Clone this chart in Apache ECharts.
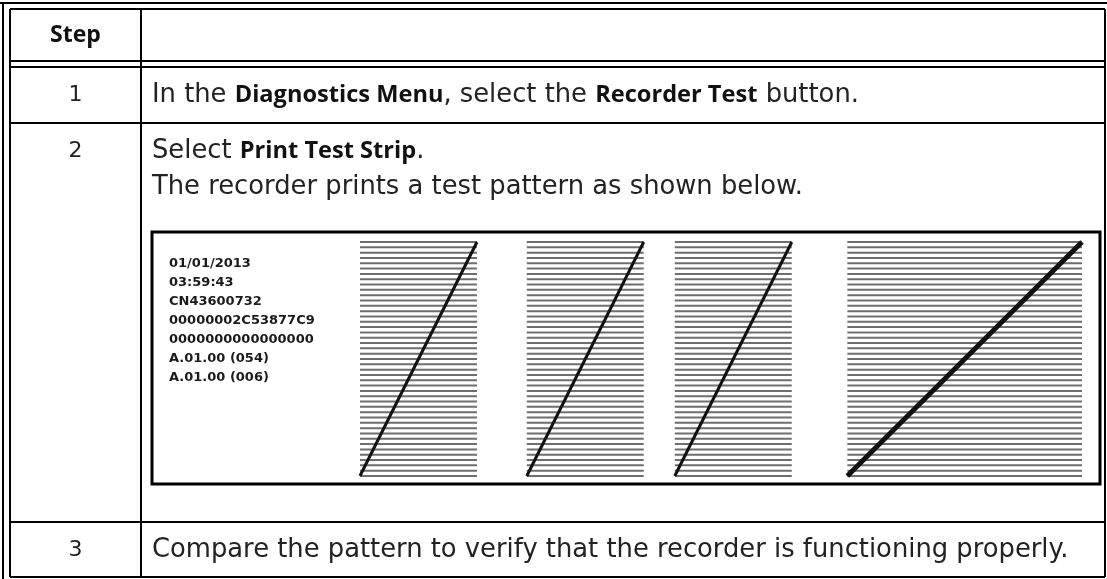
<!DOCTYPE html>
<html><head><meta charset="utf-8">
<script src="https://cdn.jsdelivr.net/npm/echarts@6/dist/echarts.min.js"></script>
<style>html,body{margin:0;padding:0;background:#fff}#c{width:1107px;height:579px}</style>
</head><body><div id="c"></div>
<script>
// ---- content ----
const headerLabels = ['Step', ''];
const stepNumbers = ['1', '2', '3'];
const stepLines = [
  ['In the {b|Diagnostics Menu}, select the {b|Recorder Test} button.'],
  ['Select {b|Print Test Strip}.', 'The recorder prints a test pattern as shown below.'],
  ['Compare the pattern to verify that the recorder is functioning properly.']
];
const stripInfo = ['01/01/2013', '03:59:43', 'CN43600732', '00000002C53877C9', '0000000000000000', 'A.01.00 (054)', 'A.01.00 (006)'];
// test-pattern blocks: [start, end] across the printed strip (percent of pattern width)
const hatchBlocks = [[0, 16.2], [23.1, 39.3], [43.6, 59.8], [67.5, 100]];
const hatchLineCount = 45;
const diagonalWeights = [3, 3, 3, 5];

// ---- layout ----
const W = 1107, H = 579;
const colX = 141, tblL = 10, tblR = 1105, tblT = 9, tblB = 577;
const rowLines = [61, 67, 123, 522];
const rowCenters = [95, 151, 550];
const headerY = 35;
const textX = 152;
const lineGap = 36;
const box = {x: 152, y: 232, w: 948, h: 252};
const FONT = '"DejaVu Sans", sans-serif';
const BFONT = '"Open Sans", "Noto Sans", sans-serif';
const FS = 25.8;

const chart = echarts.init(document.getElementById('c'), null, {renderer: 'canvas'});
const g = [];
function line(x1, y1, x2, y2, w) {
  g.push({type: 'line', shape: {x1, y1, x2, y2}, style: {stroke: '#000', lineWidth: w || 2}, silent: true});
}
// outer frame
line(0, 3, W, 3, 2);
line(3, 3, 3, H, 2);
// table
line(tblL, tblT, tblR, tblT);
line(tblL, tblT, tblL, tblB);
line(tblR, tblT, tblR, tblB);
line(tblL, tblB, tblR, tblB);
line(colX, tblT, colX, tblB);
rowLines.forEach(y => line(tblL, y, tblR, y));

const rich = {b: {fontFamily: BFONT, fontSize: 23.6, fontWeight: 'bold', fill: '#111'}};
g.push({type: 'text', x: (tblL + colX) / 2, y: headerY, style: {text: headerLabels[0], font: 'bold 23px ' + BFONT, fill: '#111', align: 'center', verticalAlign: 'middle'}});
stepNumbers.forEach((n, i) => {
  g.push({type: 'text', x: (tblL + colX) / 2, y: rowCenters[i], style: {text: n, font: '22px ' + FONT, fill: '#222', align: 'center', verticalAlign: 'middle'}});
  stepLines[i].forEach((t, j) => {
    g.push({type: 'text', x: textX, y: rowCenters[i] + j * lineGap, style: {text: t, rich, font: FS + 'px ' + FONT, fill: '#222', align: 'left', verticalAlign: 'middle'}});
  });
});
// strip frame
g.push({type: 'rect', shape: {x: box.x, y: box.y, width: box.w, height: box.h}, style: {fill: '#fff', stroke: '#000', lineWidth: 3}, z: -1, silent: true});
stripInfo.forEach((t, i) => {
  g.push({type: 'text', x: 169, y: 264 + i * 19, style: {text: t, font: 'bold 13px "DejaVu Sans", sans-serif', fill: '#1a1a1a', verticalAlign: 'middle'}});
});

// hatch data
const hatchData = [];
hatchBlocks.forEach((b, bi) => { for (let k = 0; k < hatchLineCount; k++) hatchData.push([bi, k]); });

const diagSeries = hatchBlocks.map((b, bi) => ({
  type: 'line', xAxisIndex: 0, yAxisIndex: 0, silent: true, symbol: 'none', z: 5,
  data: [[b[0], 0], [b[1], hatchLineCount - 1]],
  lineStyle: {color: '#111', width: diagonalWeights[bi]}
}));

chart.setOption({
  animation: false,
  grid: {left: 360, right: W - 1082, top: 242, bottom: H - 476, containLabel: false},
  xAxis: {type: 'value', min: 0, max: 100, show: false},
  yAxis: {type: 'value', min: 0, max: hatchLineCount - 1, show: false},
  graphic: {elements: g},
  series: [{
    type: 'custom', silent: true, z: 3,
    data: hatchData,
    renderItem: function (params, api) {
      const b = hatchBlocks[api.value(0)];
      const p1 = api.coord([b[0], api.value(1)]);
      const p2 = api.coord([b[1], api.value(1)]);
      return {type: 'line', shape: {x1: p1[0], y1: p1[1], x2: p2[0], y2: p2[1]}, style: {stroke: '#6e6e6e', lineWidth: 2}};
    }
  }].concat(diagSeries)
});
</script></body></html>
